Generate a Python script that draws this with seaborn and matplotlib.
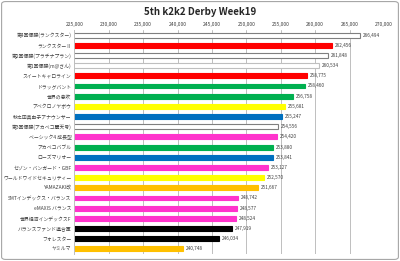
import matplotlib
matplotlib.use("Agg")
import matplotlib.pyplot as plt
import seaborn as sns
import pandas as pd
from matplotlib.patches import FancyBboxPatch
from matplotlib.ticker import FuncFormatter

sns.set_theme(style="white")
plt.rcParams['font.family'] = ['Noto Sans CJK JP', 'DejaVu Sans']

categories = [
    "第4回優勝(ランクスター)", "ランクスターⅡ", "第2回優勝(プラチナプラン)", "第1回優勝(m@さん)",
    "スイートキャロライン", "ドラッグバント", "世界の息吹", "アベクロノヤボウ",
    "秋之田真由子アナウンサー", "第3回優勝(アカベコ麗天号)", "ベーシック4 成長型", "アカベコバブル",
    "ローズマリオー", "セゾン・バンガード・GBF", "ワールドワイドセキュリティー", "YAMAZAKI改",
    "SMTインデックス・バランス", "eMAXIS バランス", "世界経済インデックスF", "バランスファンド連合軍",
    "フォレスター", "ヤミルマ",
]
values = [266494, 262456, 261848, 260534, 258775, 258460, 256758, 255681,
          255247, 254556, 254420, 253880, 253841, 253127, 252570, 251667,
          248742, 248577, 248524, 247919, 246034, 240748]
fill_colors = ["#FFFFFF", "#FF0000", "#FFFFFF", "#FFFFFF", "#FF0000", "#00B050", "#00B050", "#FFFF00",
               "#0070C0", "#FFFFFF", "#FF33CC", "#00B050", "#0070C0", "#FF33CC", "#FFFF00", "#FFC000",
               "#FF33CC", "#FF33CC", "#FF33CC", "#000000", "#000000", "#FFC000"]
edge_colors = ["#7F7F7F", "#FF0000", "#7F7F7F", "#BFBFBF", "#FF0000", "#00B050", "#00B050", "#FFFF00",
               "#0070C0", "#7F7F7F", "#FF33CC", "#00B050", "#0070C0", "#FF33CC", "#FFFF00", "#FFC000",
               "#FF33CC", "#FF33CC", "#FF33CC", "#000000", "#000000", "#FFC000"]
title = "5th k2k2 Derby Week19"
xticks = [225000, 230000, 235000, 240000, 245000, 250000, 255000, 260000, 265000, 270000]

df = pd.DataFrame({"name": categories, "value": values})

fig = plt.figure(figsize=(4.0, 2.61), dpi=100)
ax = fig.add_axes([0.186, 0.027, 0.774, 0.858])

sns.barplot(data=df, y="name", x="value", hue="name", palette=fill_colors,
            orient="h", width=0.48, legend=False, ax=ax, saturation=1)

for p, ec in zip(ax.patches, edge_colors):
    p.set_edgecolor(ec)
    p.set_linewidth(0.8)

ax.set_xlim(xticks[0], xticks[-1])
ax.set_xticks(xticks)
ax.xaxis.set_major_formatter(FuncFormatter(lambda v, _: f"{int(v):,}"))
ax.xaxis.tick_top()
ax.tick_params(axis="x", labelsize=3.6, length=0, pad=2, colors="#404040")
ax.tick_params(axis="y", labelsize=3.5, length=0, pad=2, colors="#404040")
ax.set_xlabel("")
ax.set_ylabel("")
ax.grid(axis="x", color="#BFBFBF", linewidth=0.7)
ax.set_axisbelow(True)
for s in ["top", "right", "bottom"]:
    ax.spines[s].set_visible(False)
ax.spines["left"].set_color("#BFBFBF")
ax.spines["left"].set_linewidth(0.7)

for container in ax.containers:
    ax.bar_label(container, labels=[f"{int(v):,}" for v in container.datavalues],
                 fontsize=3.4, padding=2, color="#404040")

fig.text(0.5, 0.955, title, ha="center", va="center", fontsize=7, fontweight="bold",
         color="#262626")

border = FancyBboxPatch((0.004, 0.006), 0.992, 0.988, boxstyle="round,pad=0,rounding_size=0.01",
                        transform=fig.transFigure, fill=False, edgecolor="#A6A6A6", linewidth=0.8)
fig.patches.append(border)

fig.savefig("out.png", dpi=100)
